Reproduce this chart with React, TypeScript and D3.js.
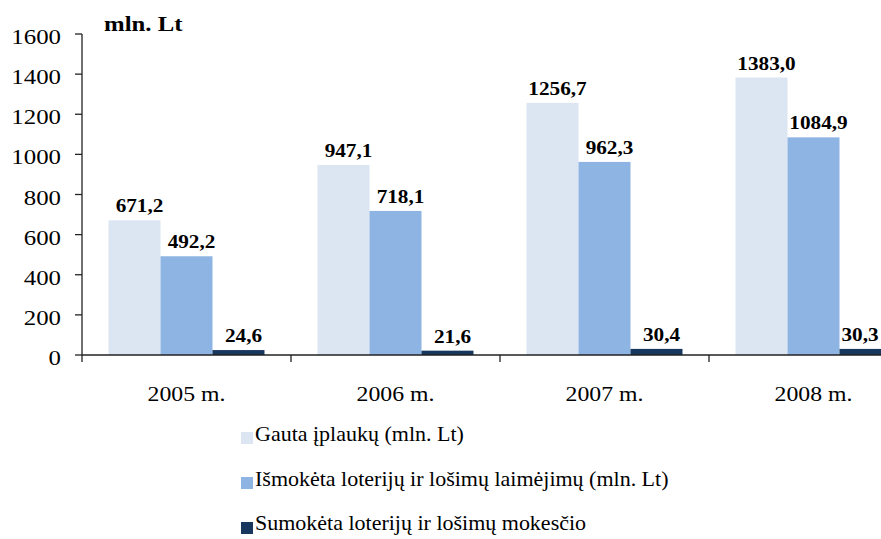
import * as d3 from "d3";

// Lithuanian lottery and gambling figures, mln. Lt
const years = ["2005 m.", "2006 m.", "2007 m.", "2008 m."];
const seriesNames = [
  "Gauta įplaukų (mln. Lt)",
  "Išmokėta loterijų ir lošimų laimėjimų (mln. Lt)",
  "Sumokėta loterijų ir lošimų mokesčio",
];
const income = [671.2, 947.1, 1256.7, 1383.0];
const winnings = [492.2, 718.1, 962.3, 1084.9];
const tax = [24.6, 21.6, 30.4, 30.3];
const yTicks = [0, 200, 400, 600, 800, 1000, 1200, 1400, 1600];

const colors = ["#dce6f2", "#8eb4e3", "#17375e"];
const FONT = "Liberation Serif";

const W = 881;
const H = 539;

function StretchText({
  x,
  y,
  sx,
  anchor = "start",
  size,
  bold = false,
  children,
}: {
  x: number;
  y: number;
  sx: number;
  anchor?: "start" | "middle" | "end";
  size: number;
  bold?: boolean;
  children: React.ReactNode;
}) {
  return (
    <g transform={`translate(${x},${y}) scale(${sx},1)`}>
      <text
        textAnchor={anchor}
        style={{ fontFamily: FONT, fontSize: size, fontWeight: bold ? 700 : 400 }}
        fill="#000"
      >
        {children}
      </text>
    </g>
  );
}

export default function App() {
  const values = [income, winnings, tax];
  const axisX = 82;
  const y = d3.scaleLinear().domain([0, 1600]).range([355, 34]);
  const x0 = d3.scaleBand<string>().domain(years).range([axisX, axisX + 4 * 209]).padding(0);
  const x1 = d3
    .scaleBand<number>()
    .domain([0, 1, 2])
    .range([0, x0.bandwidth()])
    .paddingInner(0)
    .paddingOuter(0.51);
  const fmtVal = (v: number) => v.toFixed(1).replace(".", ",");

  return (
    <div style={{ position: "absolute", left: 0, top: 0, width: W, height: H, overflow: "hidden", background: "#fff" }}>
      <svg width={W} height={H}>
        {/* bars */}
        {years.map((yr, i) => (
          <g key={yr}>
            {values.map((vals, s) => (
              <rect
                key={s}
                x={(x0(yr) ?? 0) + (x1(s) ?? 0)}
                y={y(vals[i])}
                width={x1.bandwidth()}
                height={y(0) - y(vals[i])}
                fill={colors[s]}
              />
            ))}
          </g>
        ))}

        {/* axes */}
        <line x1={axisX} x2={axisX} y1={y(1600)} y2={y(0)} stroke="#222" strokeWidth={1.3} />
        <line x1={axisX} x2={W + 40} y1={y(0)} y2={y(0)} stroke="#222" strokeWidth={1.3} />
        {yTicks.map((t) => (
          <g key={t}>
            <line x1={axisX - 7} x2={axisX} y1={y(t)} y2={y(t)} stroke="#222" strokeWidth={1.3} />
            <StretchText x={61} y={y(t) + 10} sx={1.13} anchor="end" size={22}>
              {t}
            </StretchText>
          </g>
        ))}
        {years.map((yr) => (
          <line key={yr} x1={x0(yr)} x2={x0(yr)} y1={y(0)} y2={y(0) + 7} stroke="#222" strokeWidth={1.3} />
        ))}
        {years.map((yr) => (
          <StretchText key={yr} x={(x0(yr) ?? 0) + x0.bandwidth() / 2} y={401} sx={1.08} anchor="middle" size={22}>
            {yr}
          </StretchText>
        ))}

        {/* value labels */}
        {years.map((yr, i) =>
          values.map((vals, s) => (
            <StretchText
              key={`${yr}-${s}`}
              x={Math.min((x0(yr) ?? 0) + (x1(s) ?? 0) + x1.bandwidth() / 2 + 5, W - 21)}
              y={y(vals[i]) - 8}
              sx={1.18}
              anchor="middle"
              size={18}
              bold
            >
              {fmtVal(vals[i])}
            </StretchText>
          )),
        )}

        {/* unit title */}
        <StretchText x={104} y={31} sx={1.18} size={21} bold>
          mln. Lt
        </StretchText>

        {/* legend */}
        {seriesNames.map((name, s) => (
          <g key={name}>
            <rect x={241} y={432 + s * 45} width={12} height={12} fill={colors[s]} />
            <StretchText x={255} y={441 + s * 44.5} sx={1.1} size={20}>
              {name}
            </StretchText>
          </g>
        ))}
      </svg>
    </div>
  );
}
